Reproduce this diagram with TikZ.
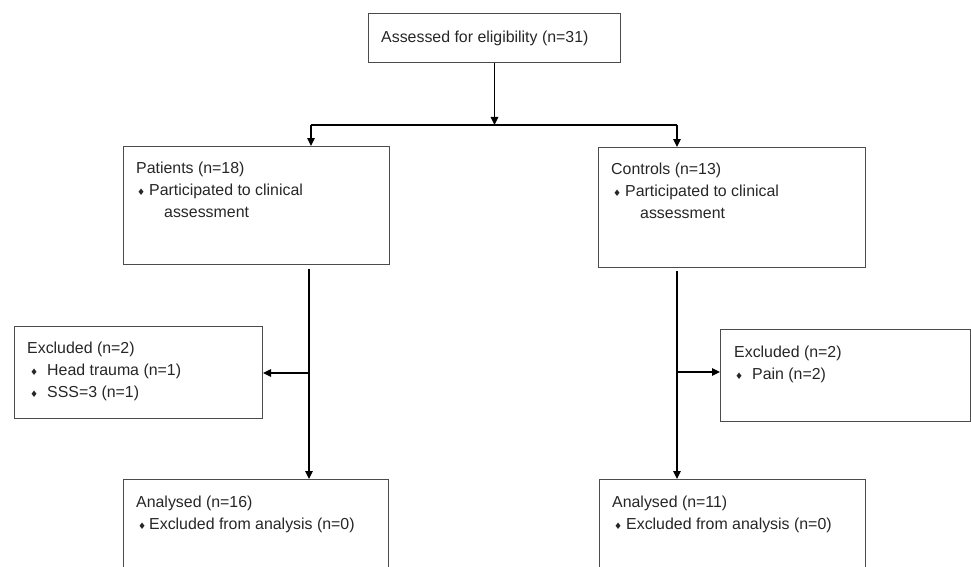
\documentclass[tikz,border=0pt]{standalone}
\usepackage{fontspec}
\setmainfont{Liberation Sans}
\newfontfamily\symfont{DejaVu Sans}
\usetikzlibrary{arrows.meta}

\newcommand{\dmd}{\raisebox{0.3pt}{\fontsize{9}{9}\symfont ♦}}
\newcommand{\itm}[2]{\hspace*{#1}\makebox[#2][l]{\dmd}}

\begin{document}
\begin{tikzpicture}[x=1pt, y=-1pt,
    box/.style={draw=black!70, line width=1pt, rectangle, anchor=north west, inner sep=0pt},
    txt/.style={anchor=north west, inner sep=0pt, align=left, text=black!85,
        font=\fontsize{15.9}{22.3}\selectfont},
    arr/.style={line width=1.1pt, -{Triangle[length=8pt,width=7.5pt]}},
    ln/.style={line width=1.1pt}]
        \useasboundingbox (0,0) rectangle (971,567);
        \clip (0,0) rectangle (971,567);

        \node[box, minimum width=252pt, minimum height=49pt] (top) at (368, 13) {};
        \node[box, minimum width=266pt, minimum height=118pt] (patients) at (123, 146) {};
        \node[box, minimum width=267pt, minimum height=120pt] (controls) at (598, 147) {};
        \node[box, minimum width=248pt, minimum height=92pt] (exclpat) at (14, 326) {};
        \node[box, minimum width=250pt, minimum height=92pt] (exclcon) at (720, 329) {};
        \node[box, minimum width=265pt, minimum height=120pt] (anapat) at (123, 479) {};
        \node[box, minimum width=266pt, minimum height=120pt] (anacon) at (599, 479) {};

        \node[txt] (toptxt) at (381, 26.4) {\strut Assessed for eligibility (n=31)};
        \node[txt] (pattxt) at (136, 157.4) {\strut Patients (n=18)\\
            \itm{1pt}{12pt}Participated to clinical\\
            \hspace*{28pt}assessment};
        \node[txt] (contxt) at (611, 158.4) {\strut Controls (n=13)\\
            \itm{2pt}{12pt}Participated to clinical\\
            \hspace*{29pt}assessment};
        \node[txt] (exclpattxt) at (27, 337.4) {\strut Excluded (n=2)\\
            \itm{3pt}{17pt}Head trauma (n=1)\\
            \itm{3pt}{17pt}SSS=3 (n=1)};
        \node[txt] (exclcontxt) at (734, 341.4) {\strut Excluded (n=2)\\
            \itm{1pt}{17pt}Pain (n=2)};
        \node[txt] (anapattxt) at (136, 491.4) {\strut Analysed (n=16)\\
            \itm{2pt}{11pt}Excluded from analysis (n=0)};
        \node[txt] (anacontxt) at (612, 491.4) {\strut Analysed (n=11)\\
            \itm{2pt}{12pt}Excluded from analysis (n=0)};

        % split below the first box
        \coordinate (split) at (top.south |- 0, 125);
        \coordinate (lsplit) at (311, 125);
        \coordinate (rsplit) at (677, 125);
        \draw[arr] (top.south) -- (split);
        \draw[ln] (lsplit) -- (rsplit);
        \draw[arr] (lsplit) -- (lsplit |- patients.north);
        \draw[arr] (rsplit) -- (rsplit |- controls.north);

        % the two columns
        \coordinate (lfork) at (309, 373);
        \coordinate (rfork) at (677, 372);
        \draw[arr] ([yshift=-4pt]patients.south -| lfork) -- (lfork |- anapat.north);
        \draw[arr] (lfork) -- (lfork -| exclpat.east);
        \draw[arr] ([yshift=-3pt]controls.south -| rfork) -- (rfork |- anacon.north);
        \draw[arr] (rfork) -- (rfork -| exclcon.west);

    \end{tikzpicture}
\end{document}
